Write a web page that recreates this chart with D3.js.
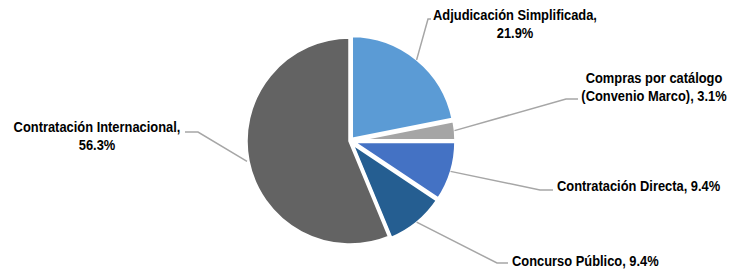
<!DOCTYPE html>
<html>
<head>
<meta charset="utf-8">
<script src="https://cdn.jsdelivr.net/npm/d3@7"></script>
<style>
  body { margin: 0; background: #fff; }
  text { font-family: "Liberation Sans", Arial, sans-serif; font-weight: bold; font-size: 15px; fill: #000; }
</style>
</head>
<body>
<div id="chart"></div>
<script>
const categories = ["Adjudicación Simplificada", "Compras por catálogo (Convenio Marco)", "Contratación Directa", "Concurso Público", "Contratación Internacional"];
const shares = [21.9, 3.1, 9.4, 9.4, 56.3];
const colors = ["#5B9BD5", "#A5A5A5", "#4472C4", "#255E91", "#636363"];

// label text lines per slice
const labelLines = [
  ["Adjudicación Simplificada,", "21.9%"],
  ["Compras por catálogo", "(Convenio Marco), 3.1%"],
  ["Contratación Directa, 9.4%"],
  ["Concurso Público, 9.4%"],
  ["Contratación Internacional,", "56.3%"]
];

// where each label sits: elbow + end of leader, text anchor
const labelLayout = [
  { elbow: [428, 19], end: [431, 19], tx: 515, ty: 20, anchor: "middle" },
  { elbow: [566, 99], end: [578, 99], tx: 654, ty: 83, anchor: "middle" },
  { elbow: [540, 190], end: [553, 190], tx: 557, ty: 191, anchor: "start" },
  { elbow: [497, 263], end: [508, 263], tx: 512, ty: 266, anchor: "start" },
  { elbow: [198, 132], end: [185, 132], tx: 97, ty: 132, anchor: "middle" }
];

const width = 729, height = 270;
const cx = 350, cy = 141, r = 104;
const narrow = 0.86; // fake Arial Narrow

const svg = d3.select("#chart").append("svg")
  .attr("width", width)
  .attr("height", height);

const data = categories.map((c, i) => ({ name: c, value: shares[i], i: i }));

const pie = d3.pie()
  .sort(null)
  .value(d => d.value);

const arcs = pie(data);

const arc = d3.arc()
  .innerRadius(0)
  .outerRadius(r);

const g = svg.append("g")
  .attr("transform", `translate(${cx}, ${cy})`);

g.selectAll("path.slice")
  .data(arcs)
  .enter().append("path")
  .attr("class", "slice")
  .attr("d", arc)
  .attr("transform", d => {
    if (d.data.i === 4) return null;
    const a = (d.startAngle + d.endAngle) / 2;
    return `translate(${2 * Math.sin(a)}, ${-2 * Math.cos(a)})`;
  })
  .style("fill", d => colors[d.data.i])
  .style("stroke", "#fff")
  .style("stroke-width", 3.5);

// leader lines
arcs.forEach(d => {
  const a = (d.startAngle + d.endAngle) / 2;
  const sx = cx + (r + 1) * Math.sin(a);
  const sy = cy - (r + 1) * Math.cos(a);
  const L = labelLayout[d.data.i];
  svg.append("polyline")
    .attr("points", `${sx},${sy} ${L.elbow[0]},${L.elbow[1]} ${L.end[0]},${L.end[1]}`)
    .style("fill", "none")
    .style("stroke", "#A6A6A6")
    .style("stroke-width", 1.5);
});

// labels
labelLayout.forEach((L, i) => {
  const t = svg.append("text")
    .attr("transform", `translate(${L.tx}, ${L.ty}) scale(${narrow}, 1)`)
    .style("text-anchor", L.anchor);
  labelLines[i].forEach((line, k) => {
    t.append("tspan")
      .attr("x", 0)
      .attr("dy", k === 0 ? 0 : 18)
      .text(line);
  });
});
</script>
</body>
</html>
